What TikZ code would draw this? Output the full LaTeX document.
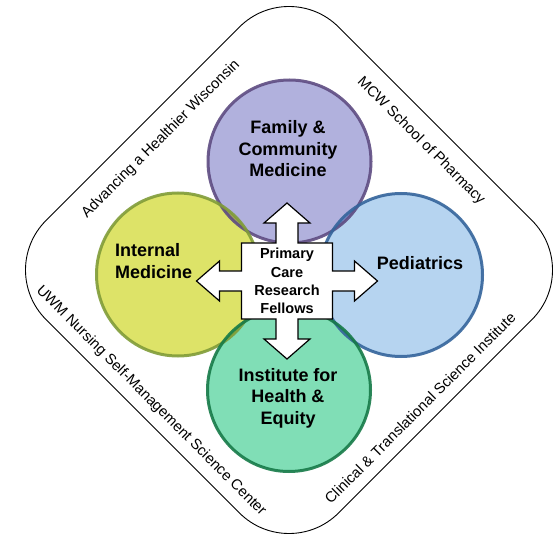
\documentclass[tikz,border=0pt]{standalone}
\usepackage{fontspec}
\setmainfont{Liberation Sans}
\usetikzlibrary{positioning}
\definecolor{famfill}{RGB}{177,177,221}
\definecolor{famline}{RGB}{94,76,130}
\definecolor{medfill}{RGB}{221,227,104}
\definecolor{medline}{RGB}{128,156,56}
\definecolor{pedfill}{RGB}{182,212,240}
\definecolor{pedline}{RGB}{52,100,155}
\definecolor{ihfill}{RGB}{128,222,182}
\definecolor{ihline}{RGB}{22,122,72}
% overlaps of two units
\definecolor{famxmed}{RGB}{160,160,92}
\definecolor{famxped}{RGB}{128,148,208}
\definecolor{medxih}{RGB}{116,198,76}
\definecolor{pedxih}{RGB}{94,184,172}

\begin{document}
\begin{tikzpicture}[x=1pt,y=-1pt,
	unit_circle/.style={circle,minimum size=163pt,inner sep=0pt},
	unit_text/.style={font=\fontsize{18}{21.5}\selectfont\bfseries,align=center,inner sep=0pt},
	fellow_text/.style={font=\fontsize{14.5}{18.3}\selectfont\bfseries,align=center,inner sep=0pt},
	partner_label/.style={font=\fontsize{14.8}{18}\selectfont,inner sep=0pt}]
				
				\useasboundingbox (0,0) rectangle (556,534);
				
				% outer frame
				\draw[line width=0.9pt,rounded corners=70pt] (142.75,123.75) -- (289,-22.5) -- (581.5,270) -- (289,562.5) -- (-3.5,270) -- cycle;
				
				% the four units
				\node[unit_circle, fill=famfill] (1) at (289.5,161.5) {};
				\node[unit_circle, fill=medfill] (2) at (178,274.5) {};
				\node[unit_circle, fill=pedfill] (3) at (401,275) {};
				\node[unit_circle, fill=ihfill] (4) at (289,390) {};
				\foreach \i/\j/\c in {1/2/famxmed, 1/3/famxped, 2/4/medxih, 3/4/pedxih}{
					\begin{scope}
					\clip (\i.center) circle [radius=81.5];
					\fill[\c] (\j.center) circle [radius=81.5];
					\end{scope}
				}
				\foreach \i/\c in {1/famline, 2/medline, 3/pedline, 4/ihline}
					\draw[\c, line width=3pt, draw opacity=0.9] (\i.center) circle [radius=81.5];
				
				% cross with four arrows
				\draw[line width=1.2pt,fill=white,shift={(287,281)}]
				(-45.5,-38) -- (-11,-38) -- (-11,-58) -- (-23,-58) -- (0,-78) -- (23,-58) -- (11,-58) -- (11,-38)
				-- (45.5,-38) -- (45.5,-10) -- (67.5,-10) -- (67.5,-20) -- (90.5,0) -- (67.5,20) -- (67.5,10) -- (45.5,10)
				-- (45.5,38) -- (11,38) -- (11,58) -- (23,58) -- (0,78) -- (-23,58) -- (-11,58) -- (-11,38)
				-- (-45.5,38) -- (-45.5,10) -- (-67.5,10) -- (-67.5,20) -- (-90.5,0) -- (-67.5,-20) -- (-67.5,-10) -- (-45.5,-10) -- cycle;
				
				\node[unit_text] (t1) at (288,149) {Family \&\\Community\\Medicine};
				\node[unit_text, align=left, anchor=west] (t2) at (115,261) {Internal\\Medicine};
				\node[unit_text] (t3) at (420,263.5) {Pediatrics};
				\node[unit_text] (t4) at (288,398) {Institute for\\Health \&\\Equity};
				\node[fellow_text] (5) at (287,281.25) {Primary\\Care\\Research\\Fellows};
				
				% partners along the frame
				\node[partner_label, rotate=45] (a) at (161,139) {Advancing a Healthier Wisconsin};
				\node[partner_label, rotate=-45] (b) at (421,141) {MCW School of Pharmacy};
				\node[partner_label, rotate=-45] (c) at (151,401) {UWM Nursing Self-Management Science Center};
				\node[partner_label, rotate=45] (d) at (420,408) {Clinical \& Translational Science Institute};
			\end{tikzpicture}
\end{document}
